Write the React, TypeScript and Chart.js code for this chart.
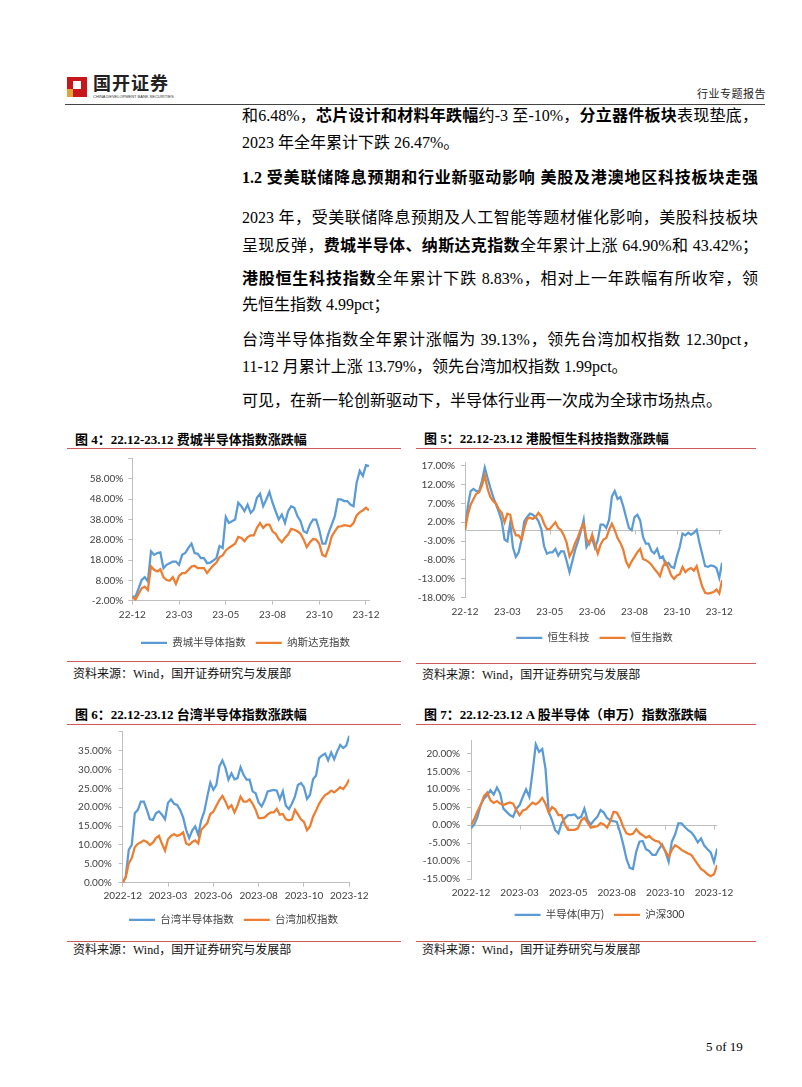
import React, { useEffect, useRef } from 'react';
import { Chart, registerables } from 'chart.js';

Chart.register(...registerables);

// ---------------- data ----------------
// 图4 费城半导体 / 纳斯达克 (index points, tick every 15)
const fig4TickLabels = ['22-12', '23-03', '23-05', '23-08', '23-10', '23-12'];
const fig4YTicks = [-2, 8, 18, 28, 38, 48, 58, 68];
const fig4Sox = [0, 0, 4, 8.2, 9.6, 7.5, 22.3, 20.6, 21.5, 21.8, 14, 15.7, 16.5, 17.3, 17.3, 15.7, 20.6, 21.5, 24, 26.1, 21.5, 21.1, 19, 19, 16.5, 16.8, 17.8, 19, 25, 24, 39.3, 36.3, 37.2, 38, 46.3, 44.6, 42.1, 45.4, 41.3, 43, 48.7, 50.7, 44.6, 47.9, 51.6, 46.3, 42.1, 38, 40.5, 36.3, 42.1, 44.6, 43.8, 39.7, 37.2, 32.2, 31.4, 35.5, 38, 38, 33, 26.1, 26.1, 31.4, 35.5, 39.7, 47.9, 47.9, 47.1, 47.1, 45.4, 44.6, 56.2, 62, 59.5, 64.8, 64.4];
const fig4Nasdaq = [0, -1.5, 1.3, 4.1, 4.9, 3.3, 14.9, 13.2, 12.4, 13.5, 9.6, 8.2, 7.8, 9.6, 6.3, 10.2, 11.6, 11.6, 13.2, 14.9, 15.2, 14, 14, 14, 11.6, 13.7, 15.4, 16.8, 19.5, 20.3, 22.8, 24, 25.1, 26.1, 29.4, 28.9, 27.3, 29.4, 30.2, 30.2, 33.9, 36.3, 33.9, 35.5, 35.5, 32.2, 31, 28.4, 26.8, 28.9, 30.6, 33.4, 33, 32.2, 31, 28.1, 24.4, 26.8, 28.4, 28.1, 26.1, 20.6, 19.8, 24, 29.7, 32.2, 34.4, 34.7, 35.2, 35, 34.7, 36.3, 40, 41.6, 42.6, 43.8, 42.5];

// 图5 恒生科技 / 恒生指数
const fig5TickLabels = ['22-12', '23-03', '23-05', '23-06', '23-08', '23-10', '23-12'];
const fig5YTicks = [-18, -13, -8, -3, 2, 7, 12, 17];
const fig5HsTech = [0, 6.3, 10.3, 10.9, 10.3, 10.3, 13, 16.6, 13.8, 11.1, 8.7, 6.7, 4.7, 2.3, -2.6, -3.1, 1.8, -4.8, -7.2, -6, -2.6, 2.3, 3.4, 4.3, 4, 3.4, 2.3, 0.2, -4.4, -6.4, -6, -6, -5.1, -6.9, -5.7, -5.8, -8.4, -11.3, -8.4, -5.3, -3.1, -0.4, 2.7, -4.6, -3.3, -2.4, -4.8, -2.8, 1.4, 1.4, 0.5, 2.7, 8.9, 10.3, 8.2, 8.7, 6.3, 3.4, 0.5, -0.1, 3.4, 4, 2.5, -1.9, -3.7, -3.7, -5.7, -6.3, -5.1, -7.5, -7.1, -9.3, -8.8, -9.9, -10.2, -7.1, -4.6, -1, -1.5, -0.8, -1.3, -0.8, 0, -3.5, -6.6, -9.7, -9.9, -9.5, -9.7, -10.2, -12.8, -8.8];
const fig5Hsi = [0, 4, 6.7, 8.2, 9.6, 10, 11.8, 14.5, 10.9, 8.7, 7.6, 7, 5.4, 4.5, 2, 4.3, 4, 0.5, -1.5, -1.5, -2.6, 0.5, 2.9, 3.2, 2.9, 3.4, 4.5, 3.6, 1.6, 0.2, 0.2, 1.1, 2, 0.5, -0.1, -1.5, -3.5, -7.1, -5.7, -3.5, -1.9, 0.2, 1.6, -2.4, -3.7, -1.3, -3.9, -6.3, -3.9, -2.6, -2.2, 0, 1.6, -0.1, -2.2, -3.5, -5.3, -8.4, -9.9, -8.4, -7.2, -6, -5.1, -7.8, -8.1, -8.6, -9.3, -10.4, -11.3, -12.4, -9.9, -8.6, -10.2, -12.2, -13.1, -12.2, -11.9, -9.9, -11.3, -10.6, -10.2, -10.9, -9.7, -12.6, -15.2, -16.8, -17, -16.8, -16.6, -15.9, -17, -13.4];

// 图6 台湾半导体 / 台湾加权
const fig6TickLabels = ['2022-12', '2023-03', '2023-06', '2023-08', '2023-10', '2023-12'];
const fig6YTicks = [0, 5, 10, 15, 20, 25, 30, 35, 40];
const fig6TwSemi = [0, 1.6, 8.7, 10, 18.4, 19.3, 21.5, 21.5, 19.3, 16.8, 16.6, 18.4, 18.9, 18, 16.8, 21.2, 22.1, 20.9, 20.6, 19.3, 17.3, 14, 11.8, 13.8, 14.9, 12.7, 16.6, 18.8, 22.8, 26.5, 24.6, 25.9, 30.8, 32.4, 30.4, 27.3, 29, 27.4, 27.7, 30.6, 28.6, 27.3, 27.3, 24.2, 23.7, 21.2, 20.2, 21.9, 24.2, 24.4, 24.6, 24.4, 22.1, 24.2, 20.4, 19.5, 20.9, 22.8, 25.9, 26.4, 25.3, 22.2, 23.3, 27.4, 28.4, 33, 33.7, 34.2, 32.4, 34.5, 32.7, 34.8, 36.5, 35.7, 36.3, 38.9];
const fig6Taiex = [0, 1.4, 5.1, 6.5, 9.4, 10.3, 10.7, 11.2, 10.8, 10, 10.6, 11.8, 12.4, 10.3, 8.5, 11.5, 12.4, 12.9, 12.4, 12.7, 13.3, 10.4, 10, 10.8, 11.2, 10.4, 14, 14.9, 15.8, 18.2, 18.8, 20.4, 21.9, 23, 21.5, 19.7, 20.5, 18.6, 20.4, 22.8, 21.5, 21.5, 22.1, 20.9, 19.3, 17.1, 17.1, 17.3, 18.1, 18.6, 18.6, 19.6, 18, 18.2, 16.8, 16.5, 16.8, 19.3, 18.1, 16.8, 16.1, 13.9, 14.9, 17.5, 19.1, 20.9, 22.2, 23.2, 23.7, 24.4, 23.9, 24.6, 25.3, 24.8, 25.9, 27.4];

// 图7 半导体(申万) / 沪深300
const fig7TickLabels = ['2022-12', '2023-03', '2023-05', '2023-08', '2023-10', '2023-12'];
const fig7YTicks = [-15, -10, -5, 0, 5, 10, 15, 20];
const fig7SwSemi = [-0.9, 0.2, 2.3, 5.6, 7.4, 8.3, 9.7, 8.5, 10.5, 8.8, 4.6, 3.7, 2.8, 2.3, 4.6, 5.6, 7.9, 10, 7.9, 14.8, 22.5, 20.4, 21.2, 15.7, 3.7, 1.4, -1.4, -2.3, 0.7, 1.9, 2.8, 2.8, 3, 1.9, 2.3, 4.6, 1.4, 0.2, 1.4, 2.3, 4.2, 3.5, 2, 1.4, 1.1, 0.9, -1.9, -5.4, -9.4, -11.9, -12.2, -7.4, -4.6, -4.4, -6.7, -7.2, -8.3, -8.3, -6.7, -5.4, -7.4, -10.2, -4.6, -2.6, 0.5, 0.5, -0.5, -1.4, -2, -3.2, -4.8, -3.7, -5.7, -6.7, -7.6, -10.3, -6.5];
const fig7Csi300 = [0, 1.7, 3.9, 5.6, 8.1, 9.1, 6.9, 6.2, 6.7, 6, 5.6, 6, 6.3, 6, 4.2, 2.8, 4.1, 4.4, 5.4, 6.3, 5.8, 6.5, 7.6, 6, 3.5, 5, 4.4, 2.8, 2.8, 0.2, -1.3, -1.3, -1.3, -0.9, 1.3, 2.1, 0.7, -0.7, -0.5, -0.3, 0.6, 0.2, -0.7, 1.1, 3.7, 3.5, 1.9, -0.5, -2.3, -2.6, -2.4, -1.1, -2.2, -2.8, -3.5, -3, -3.9, -4.4, -4.6, -5.7, -7.2, -8.8, -6.9, -5.6, -6.1, -6.9, -7.4, -7.9, -8.3, -9.6, -10.9, -12.2, -12.8, -13.7, -14.2, -13.7, -11.1];

// ---------------- styles ----------------
const SERIF = "'Liberation Serif', 'Noto Sans CJK SC', serif";
const CHART_FONT = "Lato, 'Noto Sans CJK SC', sans-serif";
const BLUE = '#5B9BD5';
const ORANGE = '#ED7D31';
const AXIS = '#BFBFBF';
const TICK_TEXT = '#404040';
const RED = '#D2585C';

const legendShift = {
  id: 'legendShift',
  afterLayout(chart: any, _args: any, opts: any) {
    const l = chart.legend;
    if (l && opts && opts.dx) {
      l.left += opts.dx;
      l.right += opts.dx;
    }
  },
};

const zeroAxis = {
  id: 'zeroAxis',
  beforeDatasetsDraw(chart: any, _args: any, opts: any) {
    if (!opts || !opts.enabled) return;
    const { ctx, chartArea, scales } = chart;
    const y = Math.round(scales.y.getPixelForValue(0)) + 0.5;
    ctx.save();
    ctx.strokeStyle = AXIS;
    ctx.lineWidth = 1;
    ctx.beginPath();
    ctx.moveTo(chartArea.left, y);
    ctx.lineTo(chartArea.right, y);
    scales.x.ticks.forEach((t: any) => {
      const x = Math.round(scales.x.getPixelForValue(t.value)) + 0.5;
      ctx.moveTo(x, y);
      ctx.lineTo(x, y + 4);
    });
    ctx.stroke();
    ctx.restore();
  },
};

type Series = { label: string; values: number[]; color: string };
type Spec = {
  left: number; top: number; w: number; h: number;
  pad: { top: number; right: number; bottom: number; left: number };
  yW: number; xH: number;
  yMin: number; yMax: number; yTicks: number[]; yLabelMax: number; yTickPad: number;
  xMax: number; step: number; xLabels: string[]; xTickPad: number; xTickLen: number;
  zero: boolean; legendDx: number; series: Series[];
};

function buildConfig(s: Spec): any {
  return {
    type: 'line',
    data: {
      datasets: s.series.map((ser, i) => ({
        label: ser.label,
        data: ser.values.map((v, j) => ({ x: j, y: v })),
        borderColor: ser.color,
        backgroundColor: ser.color,
        borderWidth: 2.25,
        pointRadius: 0,
        tension: 0,
        order: s.series.length - i,
      })),
    },
    options: {
      responsive: false,
      animation: false,
      events: [],
      layout: { padding: s.pad },
      scales: {
        x: {
          type: 'linear',
          min: 0,
          max: s.xMax,
          afterBuildTicks: (sc: any) => {
            sc.ticks = s.xLabels.map((_, k) => ({ value: k * s.step }));
          },
          afterFit: (sc: any) => { sc.height = s.xH; },
          ticks: {
            autoSkip: false,
            maxRotation: 0,
            minRotation: 0,
            padding: s.xTickPad,
            color: TICK_TEXT,
            font: { family: CHART_FONT, size: 10 },
            callback: (v: any) => s.xLabels[Math.round(Number(v) / s.step)] ?? '',
          },
          grid: {
            display: !s.zero,
            drawOnChartArea: false,
            drawTicks: s.xTickLen > 0,
            tickLength: s.xTickLen,
            color: AXIS,
          },
          border: { display: !s.zero, color: AXIS },
        },
        y: {
          type: 'linear',
          min: s.yMin,
          max: s.yMax,
          afterBuildTicks: (sc: any) => {
            sc.ticks = s.yTicks.map((v) => ({ value: v }));
          },
          afterFit: (sc: any) => { sc.width = s.yW; },
          ticks: {
            autoSkip: false,
            padding: s.yTickPad,
            color: TICK_TEXT,
            font: { family: CHART_FONT, size: 10 },
            callback: (v: any) => (Number(v) > s.yLabelMax + 1e-9 ? '' : Number(v).toFixed(2) + '%'),
          },
          grid: { display: true, drawOnChartArea: false, drawTicks: true, tickLength: 4, color: AXIS },
          border: { display: true, color: AXIS },
        },
      },
      plugins: {
        tooltip: { enabled: false },
        legend: {
          display: true,
          position: 'bottom',
          fullSize: true,
          labels: {
            boxWidth: 26,
            boxHeight: 0,
            padding: 10,
            color: TICK_TEXT,
            font: { family: CHART_FONT, size: 10.5 },
            sort: (a: any, b: any) => a.datasetIndex - b.datasetIndex,
          },
        },
        legendShift: { dx: s.legendDx },
        zeroAxis: { enabled: s.zero },
      },
    },
    plugins: [legendShift, zeroAxis],
  };
}

function LineChart({ spec }: { spec: Spec }) {
  const ref = useRef<HTMLCanvasElement>(null);
  useEffect(() => {
    if (!ref.current) return;
    const chart = new Chart(ref.current, buildConfig(spec));
    return () => chart.destroy();
  }, []);
  return (
    <canvas
      ref={ref}
      width={spec.w}
      height={spec.h}
      style={{ position: 'absolute', left: spec.left, top: spec.top, width: spec.w, height: spec.h }}
    />
  );
}

const spec4: Spec = {
  left: 67, top: 443, w: 330, h: 215,
  pad: { top: 15.7, right: 27.9, bottom: 0, left: 0 },
  yW: 65.3, xH: 26.8,
  yMin: -2, yMax: 68, yTicks: fig4YTicks, yLabelMax: 58, yTickPad: 5,
  xMax: 76, step: 15, xLabels: fig4TickLabels, xTickPad: 4.3, xTickLen: 4,
  zero: false, legendDx: 27.45,
  series: [
    { label: '费城半导体指数', values: fig4Sox, color: BLUE },
    { label: '纳斯达克指数', values: fig4Nasdaq, color: ORANGE },
  ],
};

const spec5: Spec = {
  left: 405, top: 447, w: 352, h: 206,
  pad: { top: 15.6, right: 34.9, bottom: 0, left: 0 },
  yW: 60, xH: 25.2,
  yMin: -18, yMax: 17.9, yTicks: fig5YTicks, yLabelMax: 17, yTickPad: 6,
  xMax: 91, step: 15, xLabels: fig5TickLabels, xTickPad: 8.4, xTickLen: 0,
  zero: true, legendDx: 30.95,
  series: [
    { label: '恒生科技', values: fig5HsTech, color: BLUE },
    { label: '恒生指数', values: fig5Hsi, color: ORANGE },
  ],
};

const spec6: Spec = {
  left: 65, top: 716, w: 335, h: 219,
  pad: { top: 15.7, right: 50.7, bottom: 0, left: 0 },
  yW: 57.7, xH: 21.8,
  yMin: 0, yMax: 40, yTicks: fig6YTicks, yLabelMax: 35, yTickPad: 7,
  xMax: 75, step: 15, xLabels: fig6TickLabels, xTickPad: 3.3, xTickLen: 4,
  zero: false, legendDx: 26.35,
  series: [
    { label: '台湾半导体指数', values: fig6TwSemi, color: BLUE },
    { label: '台湾加权指数', values: fig6Taiex, color: ORANGE },
  ],
};

const spec7: Spec = {
  left: 405, top: 725, w: 352, h: 205,
  pad: { top: 15.8, right: 39.8, bottom: 0, left: 0 },
  yW: 66, xH: 20.5,
  yMin: -15, yMax: 23.5, yTicks: fig7YTicks, yLabelMax: 20, yTickPad: 7,
  xMax: 76, step: 15, xLabels: fig7TickLabels, xTickPad: 7.7, xTickLen: 0,
  zero: true, legendDx: 38.4,
  series: [
    { label: '半导体(申万)', values: fig7SwSemi, color: BLUE },
    { label: '沪深300', values: fig7Csi300, color: ORANGE },
  ],
};

// ---------------- page pieces ----------------
const abs = (left: number, top: number, extra: any = {}) => ({ position: 'absolute' as const, left, top, ...extra });

function BodyLine({ center, justify, bold, children }: any) {
  return (
    <div
      style={abs(242, center - 13.5, {
        width: 516,
        height: 27,
        lineHeight: '27px',
        fontSize: 16,
        fontFamily: SERIF,
        fontWeight: bold ? 'bold' : 'normal',
        color: '#000',
        textAlign: justify ? 'justify' : 'left',
        textAlignLast: justify ? 'justify' : 'left',
        whiteSpace: justify ? 'normal' : 'nowrap',
        overflow: 'hidden',
      })}
    >
      {children}
    </div>
  );
}

function FigureFrame({ x, title, titleY, topLine, bottomLine, sourceY, width }: any) {
  return (
    <>
      <div style={abs(x + 8, titleY - 9, { fontSize: 13, lineHeight: '18px', fontWeight: 'bold', fontFamily: SERIF, color: '#000', whiteSpace: 'nowrap' })}>
        {title}
      </div>
      <div style={abs(x, topLine, { width, height: 1, background: RED })} />
      <div style={abs(x, bottomLine, { width, height: 1, background: RED })} />
      <div style={abs(x + 6, sourceY - 8, { fontSize: 12, lineHeight: '16px', fontFamily: SERIF, color: '#111', whiteSpace: 'nowrap' })}>
        资料来源：Wind，国开证券研究与发展部
      </div>
    </>
  );
}

export default function App() {
  return (
    <div style={abs(0, 0, { width: 802, height: 1087, background: '#fff', overflow: 'hidden' })}>
      {/* header */}
      <div style={abs(67, 77, { width: 20, height: 20, background: '#C8161D' })} />
      <div style={abs(73, 81, { width: 8, height: 8, background: '#fff' })} />
      <div style={abs(67, 89, { width: 6, height: 8, background: '#E5A13B' })} />
      <div style={abs(93, 74, { fontSize: 18, lineHeight: '20px', fontWeight: 'bold', fontFamily: SERIF, color: '#222', letterSpacing: 1, whiteSpace: 'nowrap' })}>
        国开证券
      </div>
      <div style={abs(93, 94, { fontSize: 4, lineHeight: '5px', fontFamily: "'Liberation Sans', sans-serif", color: '#333', whiteSpace: 'nowrap' })}>
        CHINA DEVELOPMENT BANK SECURITIES
      </div>
      <div style={abs(697, 87, { fontSize: 11, lineHeight: '14px', fontFamily: SERIF, color: '#222', letterSpacing: 0.5, whiteSpace: 'nowrap' })}>
        行业专题报告
      </div>
      <div style={abs(65, 104, { width: 700, height: 1, background: '#444' })} />

      {/* body text */}
      <BodyLine center={115} justify>
        和6.48%，<b>芯片设计和材料年跌幅</b>约-3 至-10%，<b>分立器件板块</b>表现垫底，
      </BodyLine>
      <BodyLine center={142.7}>2023 年全年累计下跌 26.47%。</BodyLine>
      <BodyLine center={177.3} justify bold>
        1.2 受美联储降息预期和行业新驱动影响 美股及港澳地区科技板块走强
      </BodyLine>
      <BodyLine center={217.3} justify>
        2023 年，受美联储降息预期及人工智能等题材催化影响，美股科技板块
      </BodyLine>
      <BodyLine center={245} justify>
        呈现反弹，<b>费城半导体、纳斯达克指数</b>全年累计上涨 64.90%和 43.42%；
      </BodyLine>
      <BodyLine center={278.3} justify>
        <b>港股恒生科技指数</b>全年累计下跌 8.83%，相对上一年跌幅有所收窄，领
      </BodyLine>
      <BodyLine center={304}>先恒生指数 4.99pct；</BodyLine>
      <BodyLine center={339.3} justify>
        台湾半导体指数全年累计涨幅为 39.13%，领先台湾加权指数 12.30pct，
      </BodyLine>
      <BodyLine center={366}>11-12 月累计上涨 13.79%，领先台湾加权指数 1.99pct。</BodyLine>
      <BodyLine center={400}>可见，在新一轮创新驱动下，半导体行业再一次成为全球市场热点。</BodyLine>

      {/* figure frames */}
      <FigureFrame x={67} width={334} title="图 4：22.12-23.12 费城半导体指数涨跌幅" titleY={440} topLine={448} bottomLine={661} sourceY={673.5} />
      <FigureFrame x={416} width={340} title="图 5：22.12-23.12 港股恒生科技指数涨跌幅" titleY={439} topLine={448} bottomLine={663} sourceY={674.5} />
      <FigureFrame x={67} width={334} title="图 6：22.12-23.12 台湾半导体指数涨跌幅" titleY={715} topLine={724} bottomLine={941} sourceY={950} />
      <FigureFrame x={416} width={340} title="图 7：22.12-23.12 A 股半导体（申万）指数涨跌幅" titleY={715} topLine={724} bottomLine={941} sourceY={950} />

      <LineChart spec={spec4} />
      <LineChart spec={spec5} />
      <LineChart spec={spec6} />
      <LineChart spec={spec7} />

      {/* footer */}
      <div style={abs(706, 1039, { fontSize: 13, lineHeight: '16px', fontFamily: SERIF, color: '#000', whiteSpace: 'nowrap' })}>
        5 of 19
      </div>
    </div>
  );
}
